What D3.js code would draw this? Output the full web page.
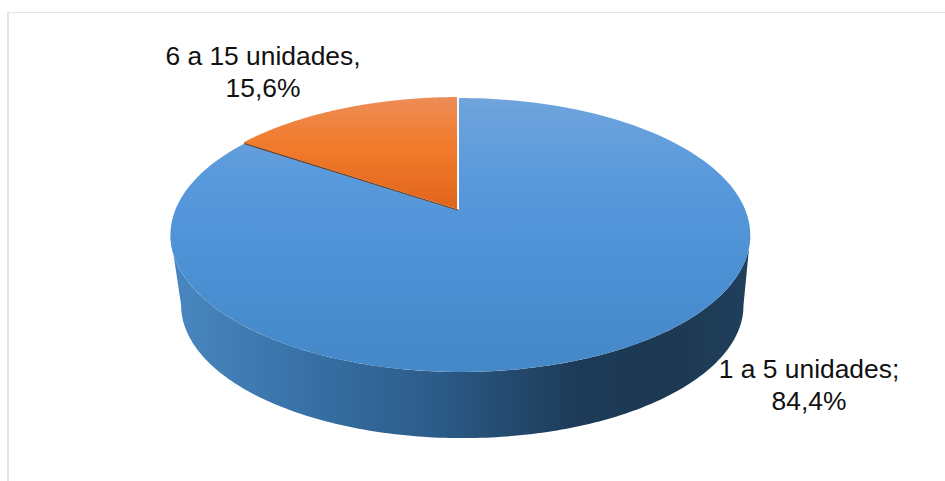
<!DOCTYPE html>
<html>
<head>
<meta charset="utf-8">
<script src="https://cdn.jsdelivr.net/npm/d3@7"></script>
<style>
  html, body { margin: 0; padding: 0; background: #fff; }
  svg { display: block; }
  text { font-family: "Liberation Sans", Arial, sans-serif; font-size: 26.4px; fill: #111; }
</style>
</head>
<body>
<svg id="chart" width="945" height="481"></svg>
<script>
// Share of establishments by size band
const categories = ["1 a 5 unidades", "6 a 15 unidades"];
const shares = [84.4, 15.6];
const labelLines = [["1 a 5 unidades;", "84,4%"], ["6 a 15 unidades,", "15,6%"]];

const W = 945, H = 481;
const svg = d3.select("#chart");

// Tilted disc: unit-circle coordinates are taken through a perspective divide
const apex = { x: 458, y: 210 };
const tilt = 0.1825, skew = -0.008, spreadX = 285, spreadY = 132.4;
const floor = { x: 460, y: 281, scale: 0.97 };

function rimPoint(angle, plane) {
  const u = Math.sin(angle), v = Math.cos(angle);
  const w = 1 + tilt * v + skew * u;
  const px = spreadX * u / w, py = -spreadY * v / w;
  return plane === "floor"
    ? [floor.x + px * floor.scale, floor.y + py * floor.scale]
    : [apex.x + px, apex.y + py];
}

const line = d3.line().curve(d3.curveLinear);
const sweep = (a0, a1, plane) => d3.range(0, 181).map(i => rimPoint(a0 + (a1 - a0) * i / 180, plane));

// Slice angles; the larger slice starts at twelve o'clock and runs clockwise
const arcs = d3.pie().value(d => d).sort(null)(shares);

const defs = svg.append("defs");
function gradient(id, attrs, stops) {
  const g = defs.append("linearGradient").attr("id", id).attr("gradientUnits", "userSpaceOnUse");
  Object.entries(attrs).forEach(([k, v]) => g.attr(k, v));
  stops.forEach(([o, c]) => g.append("stop").attr("offset", o).attr("stop-color", c));
}
gradient("topBlue", { x1: 0, y1: 98, x2: 0, y2: 372 }, [[0, "#70a4dc"], [0.3, "#5899dc"], [0.65, "#4b90d3"], [1, "#4588c8"]]);
gradient("topOrange", { x1: 0, y1: 97, x2: 0, y2: 210 }, [[0, "#ec8d58"], [0.4, "#f27c2e"], [1, "#e1651a"]]);
gradient("wall", { x1: 171, y1: 0, x2: 750, y2: 0 }, [[0, "#4a87c0"], [0.2, "#3a74aa"], [0.45, "#2c5c8a"], [0.7, "#1d3b58"], [0.85, "#1c3852"], [1, "#203f5c"]]);

// Frame lines of the chart area
svg.append("line").attr("x1", 8).attr("x2", W).attr("y1", 12.5).attr("y2", 12.5)
  .attr("stroke", "#e2e5ea").attr("stroke-width", 1);
svg.append("line").attr("x1", 8).attr("x2", 8).attr("y1", 12).attr("y2", H)
  .attr("stroke", "#dfe4ea").attr("stroke-width", 2);

// Side wall: the band between the top rim and the floor rim, closed at the
// angles where the rim reaches its widest point so the silhouette stays straight
const sideAngle = Math.acos(-tilt);
svg.append("path")
  .attr("fill", "url(#wall)")
  .attr("d", line(
    sweep(sideAngle, 2 * Math.PI - sideAngle, "top")
      .concat(sweep(2 * Math.PI - sideAngle, sideAngle, "floor"))
  ) + "Z");

// Top faces of the slices, each drawn from its d3.pie angles
const fills = ["url(#topBlue)", "url(#topOrange)"];
const slicePath = d => line([[apex.x, apex.y]].concat(sweep(d.startAngle, d.endAngle, "top"))) + "Z";
svg.append("g").selectAll("path").data(arcs).join("path")
  .attr("d", slicePath)
  .attr("fill", (d, i) => fills[i])
  .attr("transform", (d, i) => i === 1 ? "translate(-1,-1)" : null);

// White edge at twelve o'clock and shaded edge below the smaller slice
const splitTop = rimPoint(arcs[1].endAngle, "top");
svg.append("line").attr("x1", apex.x).attr("y1", apex.y).attr("x2", splitTop[0]).attr("y2", splitTop[1])
  .attr("stroke", "#f6f9fc").attr("stroke-width", 2);
const splitSide = rimPoint(arcs[1].startAngle, "top");
svg.append("line").attr("x1", apex.x).attr("y1", apex.y).attr("x2", splitSide[0]).attr("y2", splitSide[1])
  .attr("stroke", "#7a3d16").attr("stroke-width", 1.3);

// Data labels
const labelAt = [{ x: 809, y: 378 }, { x: 263, y: 65 }];
const lineGap = 32;
const labels = svg.append("g").selectAll("text").data(labelLines).join("text")
  .attr("text-anchor", "middle")
  .attr("y", (d, i) => labelAt[i].y);
labels.selectAll("tspan").data((d, i) => d.map(t => ({ t, x: labelAt[i].x }))).join("tspan")
  .attr("x", d => d.x)
  .attr("dy", (d, i) => i ? lineGap : 0)
  .text(d => d.t);
</script>
</body>
</html>
